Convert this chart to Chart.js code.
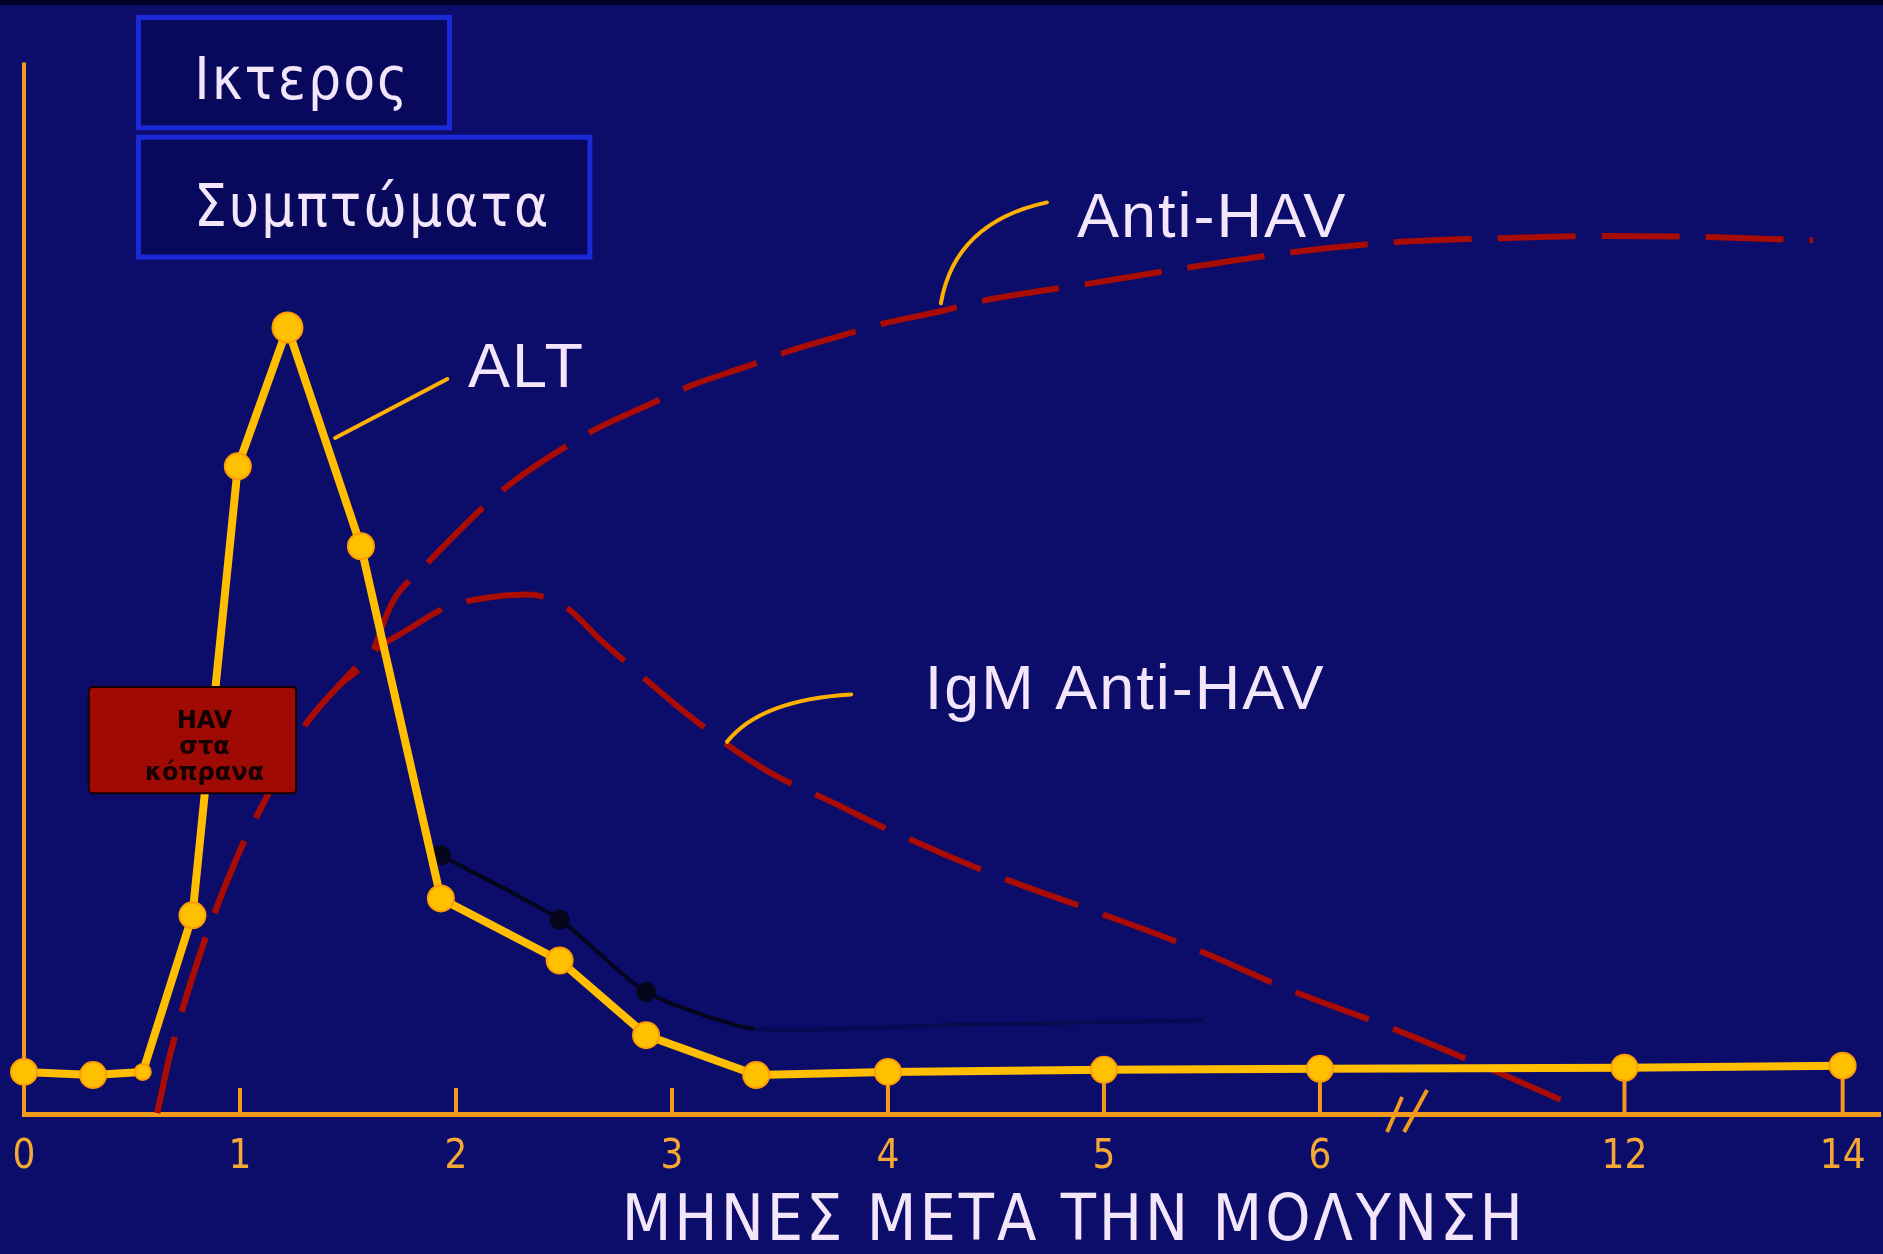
<!DOCTYPE html>
<html>
<head>
<meta charset="utf-8">
<title>Ηπατίτιδα Α</title>
<script src="https://cdn.jsdelivr.net/npm/chart.js@4.4.1/dist/chart.umd.min.js"></script>
<style>
  html, body { margin: 0; padding: 0; background: #0c0c6a; }
</style>
</head>
<body>
<canvas id="havChart" width="1883" height="1254"></canvas>
<script>
// months after infection, axis is broken between 6 and 12
const tickMonths = [0, 1, 2, 3, 4, 5, 6, 12, 14];
const tickLabels = ['0', '1', '2', '3', '4', '5', '6', '12', '14'];
const breakMonth = 7.5;

const altMonths = [0, 0.32, 0.55, 0.78, 0.99, 1.22, 1.56, 1.93, 2.48, 2.88, 3.39, 4, 5, 6, 12, 14];
const altValues = [4.0, 3.7, 4.0, 18.9, 61.6, 74.8, 54.0, 20.5, 14.6, 7.5, 3.7, 4.0, 4.2, 4.3, 4.4, 4.6];

// faint dark trace under the ALT line
const darkMonths = [1.93, 2.48, 2.88, 3.38, 4.33, 5.46];
const darkValues = [24.6, 18.5, 11.6, 8.1, 8.5, 8.9];

const antiMonths = [0.617, 0.678, 0.823, 0.99, 1.14, 1.279, 1.446, 1.612, 1.679, 1.724, 1.84, 1.957, 2.141, 2.269, 2.502, 2.663, 2.908, 3.091, 3.347, 3.519, 3.78, 3.964, 4.253, 4.426, 4.91, 5.39, 5.85, 7.45, 9.62, 11.56, 12.77, 13.73];
const antiValues = [0.1, 5.8, 15.7, 24.6, 30.8, 36.3, 40.5, 43.9, 47.5, 49.3, 51.8, 54.3, 58.0, 60.2, 63.4, 65.3, 67.6, 69.3, 71.1, 72.4, 74.0, 75.1, 76.4, 77.3, 78.9, 80.5, 81.9, 82.9, 83.3, 83.5, 83.4, 83.1];

const igmMonths = [0.617, 0.678, 0.823, 0.99, 1.14, 1.279, 1.446, 1.612, 1.779, 1.957, 2.141, 2.33, 2.502, 2.674, 2.88, 3.036, 3.292, 3.469, 3.758, 3.964, 4.46, 4.94, 5.41, 5.86, 7.45, 9.1, 11.2];
const igmValues = [0.1, 5.8, 15.7, 24.6, 30.8, 36.3, 40.5, 43.9, 46.1, 48.2, 49.1, 49.4, 48.3, 45.0, 41.3, 38.6, 34.6, 32.3, 29.5, 27.4, 23.0, 19.4, 15.8, 11.8, 8.1, 4.8, 0.4];

// periods shown as boxes (months)
const periodLabels = ['Ικτερος', 'Συμπτώματα'];
const periodStart = [0.53, 0.53];
const periodEnd = [1.97, 2.62];

const shedLabel = ['HAV', 'στα', 'κόπρανα'];
const shedStart = 0.30;
const shedEnd = 1.26;

// layout (axis units)
const P12 = 7.41, P14 = 8.42;
const boxRows = [[104.3, 93.8], [92.9, 81.5]];
const shedRow = [40.6, 30.5];

const ORANGE = '#f29a1e';
const YELLOW = '#ffbf00';
const RED = '#a80c02';
const TEXT = '#f3e6fb';
const NARROW = '"DejaVu Sans Condensed", "Liberation Sans Narrow", sans-serif';
const SANS = '"Liberation Sans", Arial, sans-serif';

function axisPos(m) {
    if (m <= 6) return m;
    if (m <= 12) return 6 + (m - 6) * (P12 - 6) / 6;
    return P12 + (m - 12) * (P14 - P12) / 2;
}

const toPoints = (ms, vs) => ms.map((m, i) => ({ x: axisPos(m), y: vs[i] }));

const curveLabels = [
    { text: 'ALT', at: [2.056, 69.1], from: [1.96, 69.9], ctrl: [1.70, 67.1], to: [1.44, 64.3] },
    { text: 'Anti-HAV', at: [4.875, 83.4], from: [4.736, 86.7], ctrl: [4.31, 84.8], to: [4.245, 77.1] },
    { text: 'IgM Anti-HAV', at: [4.17, 38.5], from: [3.83, 39.9], ctrl: [3.41, 39.4], to: [3.255, 35.4] }
];

const overlay = {
    id: 'overlay',
    beforeDraw(chart) {
        const ctx = chart.ctx;
        ctx.save();
        ctx.fillStyle = '#0c0c6a';
        ctx.fillRect(0, 0, chart.width, chart.height);
        ctx.fillStyle = '#03032a';
        ctx.fillRect(0, 0, chart.width, 5);
        ctx.restore();
    },
    beforeDatasetsDraw(chart) {
        const { ctx, scales: { x, y } } = chart;
        const px = m => x.getPixelForValue(axisPos(m));
        const py = v => y.getPixelForValue(v);
        ctx.save();
        ctx.strokeStyle = ORANGE;
        ctx.lineWidth = 4;
        ctx.beginPath();
        ctx.moveTo(px(0), py(0));
        ctx.lineTo(px(0), py(100));
        ctx.stroke();

        // tick stubs going up into the plot
        tickMonths.forEach(m => {
            if (m === 0) return;
            const i = altMonths.indexOf(m);
            const top = i >= 0 && altValues[i] < 10 ? py(altValues[i]) : py(0) - 26;
            ctx.beginPath();
            ctx.moveTo(px(m), py(0));
            ctx.lineTo(px(m), top);
            ctx.stroke();
        });

        periodLabels.forEach((lab, i) => {
            const l = px(periodStart[i]), r = px(periodEnd[i]);
            const t = py(boxRows[i][0]), b = py(boxRows[i][1]);
            ctx.fillStyle = '#08085c';
            ctx.fillRect(l, t, r - l, b - t);
            ctx.strokeStyle = '#1b2ad8';
            ctx.lineWidth = 5;
            ctx.strokeRect(l, t, r - l, b - t);
            ctx.fillStyle = TEXT;
            ctx.font = '58px ' + NARROW;
            ctx.letterSpacing = '2px';
            ctx.textAlign = 'center';
            ctx.textBaseline = 'alphabetic';
            ctx.fillText(lab, (l + r) / 2 + 8, t + (b - t) * 0.74);
        });
        ctx.restore();
    },
    afterDatasetsDraw(chart) {
        const { ctx, scales: { x, y } } = chart;
        const px = m => x.getPixelForValue(axisPos(m));
        const py = v => y.getPixelForValue(v);
        ctx.save();

        // HAV in stool box
        const l = px(shedStart), r = px(shedEnd), t = py(shedRow[0]), b = py(shedRow[1]);
        ctx.fillStyle = '#a00a04';
        ctx.strokeStyle = '#120000';
        ctx.lineWidth = 2;
        ctx.beginPath();
        ctx.roundRect(l, t, r - l, b - t, 4);
        ctx.fill();
        ctx.stroke();
        ctx.fillStyle = '#140000';
        ctx.font = 'bold 24px "DejaVu Sans", sans-serif';
        ctx.textAlign = 'center';
        ctx.textBaseline = 'middle';
        const cx = (l + r) / 2 + 12;
        shedLabel.forEach((s, i) => ctx.fillText(s, cx, t + 35 + i * 26));

        // axis break
        const bx = px(breakMonth), by = py(0);
        ctx.strokeStyle = ORANGE;
        ctx.lineWidth = 4;
        ctx.beginPath();
        ctx.moveTo(bx - 9, by + 18); ctx.lineTo(bx + 6, by - 17);
        ctx.moveTo(bx + 8, by + 18); ctx.lineTo(bx + 31, by - 24);
        ctx.stroke();

        // labels with leader lines
        curveLabels.forEach(c => {
            ctx.strokeStyle = '#ffb000';
            ctx.lineWidth = 4;
            ctx.lineCap = 'round';
            ctx.beginPath();
            ctx.moveTo(px(c.from[0]), py(c.from[1]));
            ctx.quadraticCurveTo(px(c.ctrl[0]), py(c.ctrl[1]), px(c.to[0]), py(c.to[1]));
            ctx.stroke();
            ctx.fillStyle = TEXT;
            ctx.font = '63px ' + SANS;
            ctx.letterSpacing = '2px';
            ctx.textAlign = 'left';
            ctx.textBaseline = 'alphabetic';
            ctx.fillText(c.text, px(c.at[0]), py(c.at[1]));
        });

        // axis title
        ctx.fillStyle = TEXT;
        ctx.font = '64px ' + NARROW;
        ctx.letterSpacing = '3px';
        ctx.textAlign = 'center';
        ctx.textBaseline = 'alphabetic';
        ctx.fillText('ΜΗΝΕΣ ΜΕΤΑ ΤΗΝ ΜΟΛΥΝΣΗ', px(4.86), chart.height - 14);
        ctx.restore();
    }
};

const ctx = document.getElementById('havChart').getContext('2d');
new Chart(ctx, {
    type: 'line',
    data: {
        datasets: [
            {
                label: 'ALT',
                data: toPoints(altMonths, altValues),
                borderColor: YELLOW,
                borderWidth: 8,
                pointRadius: c => (c.dataIndex === 2 ? 8 : c.dataIndex === 5 ? 15 : 13),
                pointBackgroundColor: '#ffc000',
                pointBorderColor: '#ff9c00',
                pointBorderWidth: 2,
                tension: 0,
                clip: false,
                order: 0
            },
            {
                label: 'dark',
                data: toPoints(darkMonths, darkValues),
                borderColor: '#05051c',
                borderWidth: 4,
                segment: { borderColor: s => (s.p0DataIndex >= 3 ? 'rgba(5,5,28,0.35)' : '#05051c') },
                pointRadius: c => (c.dataIndex < 3 ? 10 : 0),
                pointBackgroundColor: '#05051c',
                pointBorderWidth: 0,
                tension: 0.2,
                order: 1
            },
            {
                label: 'Anti-HAV',
                data: toPoints(antiMonths, antiValues),
                borderColor: RED,
                borderWidth: 6,
                borderDash: [78, 26],
                pointRadius: 0,
                cubicInterpolationMode: 'monotone',
                order: 2
            },
            {
                label: 'IgM Anti-HAV',
                data: toPoints(igmMonths, igmValues),
                borderColor: RED,
                borderWidth: 6,
                borderDash: [78, 26],
                pointRadius: 0,
                cubicInterpolationMode: 'monotone',
                order: 3
            }
        ]
    },
    options: {
        responsive: false,
        devicePixelRatio: 1,
        animation: false,
        layout: { autoPadding: false, padding: { left: 24, right: 3, top: 10, bottom: 0 } },
        plugins: { legend: { display: false }, tooltip: { enabled: false } },
        scales: {
            x: {
                type: 'linear',
                min: 0,
                max: 8.593,
                afterBuildTicks: s => { s.ticks = tickMonths.map(m => ({ value: axisPos(m) })); },
                afterFit: s => { s.height = 140; s.paddingLeft = 0; s.paddingRight = 0; },
                grid: { display: false, drawTicks: false },
                border: { display: true, color: ORANGE, width: 5 },
                ticks: {
                    color: '#f5a833',
                    font: { family: NARROW, size: 40 },
                    padding: 20,
                    maxRotation: 0,
                    autoSkip: false,
                    callback: (v, i) => tickLabels[i]
                }
            },
            y: { display: false, min: 0, max: 105 }
        }
    },
    plugins: [overlay]
});
</script>
</body>
</html>
